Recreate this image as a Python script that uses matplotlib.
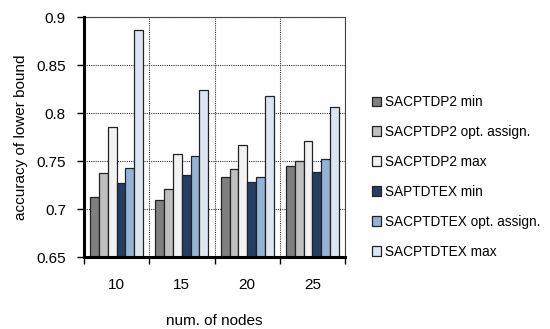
import numpy as np
import matplotlib
matplotlib.use("Agg")
import matplotlib.pyplot as plt
from matplotlib.patches import Patch

plt.rcParams["font.family"] = ["Liberation Sans", "DejaVu Sans"]

nodes = ["10", "15", "20", "25"]
series = [
    "SACPTDP2 min",
    "SACPTDP2 opt. assign.",
    "SACPTDP2 max",
    "SAPTDTEX min",
    "SACPTDTEX opt. assign.",
    "SACPTDTEX max",
]
sacptdp2_min = [0.712, 0.709, 0.733, 0.745]
sacptdp2_opt = [0.738, 0.721, 0.742, 0.750]
sacptdp2_max = [0.785, 0.757, 0.767, 0.771]
saptdtex_min = [0.727, 0.735, 0.728, 0.739]
sacptdtex_opt = [0.743, 0.755, 0.733, 0.752]
sacptdtex_max = [0.886, 0.824, 0.818, 0.806]
values = [sacptdp2_min, sacptdp2_opt, sacptdp2_max,
          saptdtex_min, sacptdtex_opt, sacptdtex_max]
colors = ["#7f7f7f", "#bfbfbf", "#f2f2f2", "#243f61", "#95b3d7", "#dce6f2"]

fig = plt.figure(figsize=(5.5, 3.29), dpi=100)
ax = fig.add_axes([84 / 550, 1 - 257 / 329, 261 / 550, 240 / 329])

x = np.arange(len(nodes))
width = 0.135
for i, (vals, c) in enumerate(zip(values, colors)):
    offs = (i - 2.5) * width
    ax.bar(x + offs, np.array(vals) - 0.65, width, bottom=0.65, color=c,
           edgecolor="#222222", linewidth=0.9, zorder=3)

ax.set_ylim(0.65, 0.9)
ax.set_xlim(-0.5, len(nodes) - 0.5)
ax.set_yticks(np.arange(0.65, 0.9001, 0.05))
ax.set_yticklabels(["0.65", "0.7", "0.75", "0.8", "0.85", "0.9"])
# group boundaries carry the ticks and grid, group centres carry the labels
ax.set_xticks(np.arange(-0.5, len(nodes)), minor=False)
ax.set_xticklabels([])
ax.set_xticks(x, minor=True)
ax.set_xticklabels(nodes, minor=True)
ax.tick_params(axis="x", which="minor", length=0, pad=15, labelsize=11)
ax.tick_params(axis="x", which="major", length=5, width=1)
ax.tick_params(axis="y", length=5, width=1, labelsize=11, pad=8)

ax.grid(True, axis="y", linestyle=(0, (1, 1)), color="#333333", linewidth=0.8, zorder=0)
ax.grid(True, axis="x", which="major", linestyle=(0, (1, 1)), color="#333333",
        linewidth=0.8, zorder=0)

for side in ("left", "bottom"):
    ax.spines[side].set_linewidth(2.2)
    ax.spines[side].set_color("black")
    ax.spines[side].set_zorder(5)
for side in ("top", "right"):
    ax.spines[side].set_linewidth(0.8)
    ax.spines[side].set_color("#444444")

ax.set_xlabel("num. of nodes", fontsize=11, labelpad=16)
ax.set_ylabel("accuracy of lower bound", fontsize=11, labelpad=6)

handles = [Patch(facecolor=c, edgecolor="#222222", linewidth=0.9) for c in colors]
fig.legend(handles, series, loc="upper left", bbox_to_anchor=(372 / 550, 1 - 95 / 329),
           frameon=False, fontsize=9.8, handlelength=0.68, handleheight=0.68,
           handletextpad=0.3, labelspacing=1.17, borderpad=0, borderaxespad=0)

fig.savefig("out.png", dpi=100)
